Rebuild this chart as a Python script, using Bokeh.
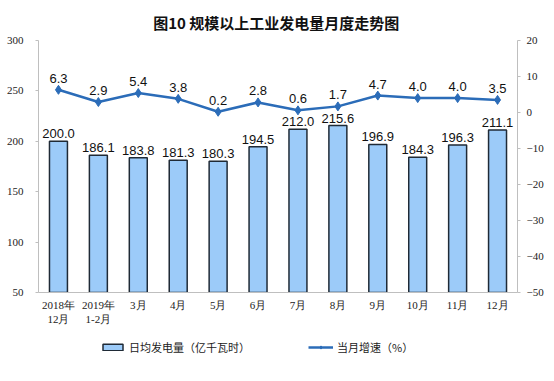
from bokeh.plotting import figure
from bokeh.layouts import column
from bokeh.models import Range1d, LinearAxis, FactorRange, Legend, LegendItem, FixedTicker, ColumnDataSource
from bokeh.core.properties import value
from bokeh.embed import file_html
from bokeh.resources import INLINE

categories = ["2018年\n12月", "2019年\n1-2月", "3月", "4月", "5月", "6月",
              "7月", "8月", "9月", "10月", "11月", "12月"]
output = [200.0, 186.1, 183.8, 181.3, 180.3, 194.5, 212.0, 215.6, 196.9, 184.3, 196.3, 211.1]
growth = [6.3, 2.9, 5.4, 3.8, 0.2, 2.8, 0.6, 1.7, 4.7, 4.0, 4.0, 3.5]
left_ticks = [50, 100, 150, 200, 250, 300]
right_ticks = [-50, -40, -30, -20, -10, 0, 10, 20]
series_names = ["日均发电量（亿千瓦时）", "当月增速（%）"]

BAR_FILL = "#9ccbf9"
BAR_LINE = "#1f2a36"
LINE_COLOR = "#2b6cb8"

src = ColumnDataSource(dict(
    x=categories, out=output, g=growth,
    out_lab=[f"{v:.1f}" for v in output],
    g_lab=[f"{v:.1f}" for v in growth],
))

p = figure(width=554, height=330, x_range=FactorRange(factors=categories, range_padding=0),
           y_range=Range1d(50, 300), output_backend="svg", toolbar_location=None,
           min_border_left=38, min_border_right=37, min_border_top=40, min_border_bottom=38)
p.extra_y_ranges = {"g": Range1d(-50, 20)}
p.outline_line_color = None
p.grid.visible = False
p.background_fill_color = "white"

p.title.text = "图10  规模以上工业发电量月度走势图"
p.title.align = "center"
p.title.text_font = "Noto Sans CJK SC"
p.title.text_font_size = "15px"
p.title.text_font_style = "bold"
p.title.text_color = "#111111"
p.title.standoff = 16

axis_color = "#bfbfbf"
serif = "Liberation Serif"

ya = p.yaxis[0]
ya.ticker = FixedTicker(ticks=left_ticks)
ya.axis_line_color = axis_color
ya.major_tick_line_color = axis_color
ya.major_tick_out = 3
ya.major_tick_in = 0
ya.minor_tick_line_color = None
ya.major_label_standoff = 12
ya.major_label_text_font = serif
ya.major_label_text_font_size = "11px"
ya.major_label_text_color = "#222222"

ra = LinearAxis(y_range_name="g", ticker=FixedTicker(ticks=right_ticks))
ra.axis_line_color = axis_color
ra.major_tick_line_color = axis_color
ra.major_tick_out = 3
ra.major_tick_in = 0
ra.minor_tick_line_color = None
ra.major_label_standoff = 6
ra.major_label_text_font = serif
ra.major_label_text_font_size = "11px"
ra.major_label_text_color = "#222222"
p.add_layout(ra, "right")

xa = p.xaxis[0]
xa.axis_line_color = axis_color
xa.major_tick_line_color = None
xa.minor_tick_line_color = None
xa.major_label_standoff = 0
xa.major_label_text_font = serif
xa.major_label_text_font_size = "11px"
xa.major_label_text_color = "#222222"

p.vbar(x="x", top="out", bottom=50, width=0.45, source=src,
       fill_color=BAR_FILL, line_color=BAR_LINE, line_width=1.5)
p.text(x="x", y="out", text="out_lab", source=src, y_offset=-3,
       text_align="center", text_baseline="bottom",
       text_font=value("Liberation Sans"), text_font_size="13px", text_color="#111111")

p.line(x="x", y="g", source=src, y_range_name="g", line_color=LINE_COLOR, line_width=2.5)
p.scatter(x="x", y="g", source=src, y_range_name="g", marker="diamond", size=9,
          fill_color=LINE_COLOR, line_color=LINE_COLOR)
p.text(x="x", y="g", text="g_lab", source=src, y_range_name="g", y_offset=-7,
       text_align="center", text_baseline="bottom",
       text_font=value("Liberation Sans"), text_font_size="13px", text_color="#111111")

# legend strip (separate figure below the chart; its renderers are hidden, only legend swatches show)
q = figure(width=554, height=51, x_range=FactorRange(factors=categories, range_padding=0),
           y_range=Range1d(0, 1), output_backend="svg", toolbar_location=None,
           x_axis_location=None, y_axis_location=None, min_border=0)
q.outline_line_color = None
q.grid.visible = False
lb = q.vbar(x="x", top="out", bottom=50, width=0.45, source=src,
            fill_color=BAR_FILL, line_color=BAR_LINE, line_width=1.5, visible=False)
ll = q.line(x="x", y="out", source=src, line_color=LINE_COLOR, line_width=2.5, visible=False)
lp = q.scatter(x="x", y="out", source=src, marker="diamond", size=7,
               fill_color=LINE_COLOR, line_color=LINE_COLOR, visible=False)

legend = Legend(items=[LegendItem(label=series_names[0], renderers=[lb]),
                       LegendItem(label=series_names[1], renderers=[ll, lp])],
                orientation="horizontal", location=(62, 26))
legend.border_line_color = None
legend.background_fill_alpha = 0
legend.inactive_fill_alpha = 0
legend.label_text_font = "Noto Sans CJK SC"
legend.label_text_font_size = "11px"
legend.label_text_color = "#222222"
legend.glyph_width = 25
legend.glyph_height = 8
legend.label_standoff = 4
legend.spacing = 58
legend.padding = 0
legend.margin = 0
q.add_layout(legend)

layout = column(p, q, spacing=0)
open("out.html", "w").write(file_html(layout, INLINE))
